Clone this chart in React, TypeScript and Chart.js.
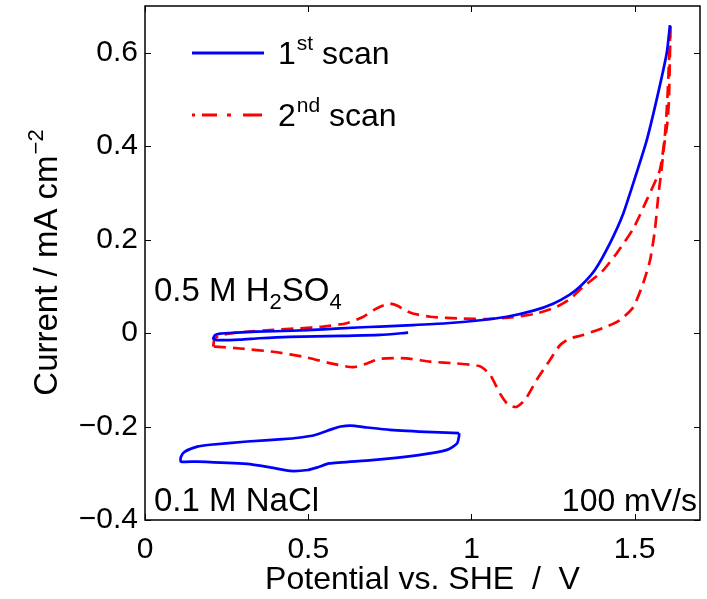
import React, { useEffect, useRef } from 'react';
import { Chart, registerables } from 'chart.js';

Chart.register(...registerables);

// ---------- data ----------
// 1st scan in 0.5 M H2SO4 (blue, solid)
const scan1AcidX = [0.806, 0.72, 0.6, 0.444, 0.35, 0.291, 0.22, 0.209, 0.215, 0.23, 0.28, 0.342, 0.45, 0.546, 0.65, 0.72, 0.82, 0.924, 1.02, 1.108, 1.19, 1.25, 1.3, 1.332, 1.378, 1.424, 1.465, 1.509, 1.537, 1.567, 1.598, 1.608];
const scan1AcidY = [0.001, -0.004, -0.006, -0.008, -0.011, -0.014, -0.015, -0.012, -0.004, -0.001, 0.001, 0.003, 0.005, 0.008, 0.012, 0.014, 0.017, 0.021, 0.027, 0.035, 0.048, 0.063, 0.082, 0.099, 0.135, 0.192, 0.256, 0.35, 0.413, 0.499, 0.599, 0.659];

// 2nd scan in 0.5 M H2SO4 (red, dashed)
const scan2AcidX = [0.209, 0.212, 0.225, 0.27, 0.33, 0.393, 0.47, 0.546, 0.618, 0.669, 0.7, 0.725, 0.75, 0.775, 0.796, 0.82, 0.873, 0.975, 1.047, 1.128, 1.2, 1.26, 1.3, 1.342, 1.399, 1.445, 1.496, 1.537, 1.577, 1.592, 1.6, 1.605, 1.61,
  1.608, 1.605, 1.6, 1.59, 1.582, 1.572, 1.562, 1.547, 1.526, 1.496, 1.455, 1.414, 1.342, 1.3, 1.271, 1.24, 1.2, 1.164, 1.138, 1.113, 1.087, 1.057, 1.026, 0.955, 0.873, 0.8, 0.72, 0.68, 0.638, 0.577, 0.495, 0.393, 0.291, 0.214, 0.209];
const scan2AcidY = [-0.029, -0.015, -0.006, 0.0, 0.004, 0.007, 0.01, 0.014, 0.021, 0.035, 0.049, 0.058, 0.063, 0.058, 0.049, 0.042, 0.035, 0.031, 0.03, 0.034, 0.042, 0.056, 0.072, 0.099, 0.131, 0.171, 0.224, 0.285, 0.349, 0.42, 0.5, 0.58, 0.661,
  0.6, 0.5, 0.45, 0.4, 0.349, 0.292, 0.221, 0.156, 0.107, 0.056, 0.028, 0.014, -0.004, -0.012, -0.026, -0.058, -0.1, -0.143, -0.158, -0.154, -0.129, -0.089, -0.071, -0.065, -0.061, -0.054, -0.055, -0.065, -0.073, -0.066, -0.052, -0.04, -0.033, -0.029, -0.029];

// scan in 0.1 M NaCl (blue, solid)
const naclX = [0.962, 0.882, 0.75, 0.68, 0.63, 0.6, 0.575, 0.521, 0.47, 0.422, 0.313, 0.2, 0.16, 0.121, 0.11, 0.11, 0.16, 0.313, 0.38, 0.444, 0.499, 0.53, 0.564, 0.695, 0.838, 0.925, 0.956, 0.962, 0.962];
const naclY = [-0.214, -0.212, -0.207, -0.202, -0.198, -0.2, -0.205, -0.218, -0.224, -0.227, -0.232, -0.239, -0.243, -0.254, -0.265, -0.275, -0.275, -0.28, -0.287, -0.295, -0.293, -0.287, -0.279, -0.272, -0.261, -0.25, -0.236, -0.22, -0.214];

const xRange = [0, 1.7];
const yRange = [-0.4, 0.7];
const xTickStep = 0.5;
const yTickStep = 0.2;

const legendLabels = [
  { base: '1', sup: 'st', rest: ' scan' },
  { base: '2', sup: 'nd', rest: ' scan' },
];
const yTitleMain = 'Current / mA cm';
const yTitleSup = '\u22122';
const xTitle = 'Potential vs. SHE  /  V';
const speedLabel = '100 mV/s';

const BLUE = '#0000ff';
const RED = '#ff0000';
const FONT = '"Liberation Sans", Arial, Helvetica, sans-serif';
const DASH = [12, 7];

const zip = (xs: number[], ys: number[]) => xs.map((x, i) => ({ x, y: ys[i] }));

const fmt = (v: number) => {
  const r = Math.round(v * 100) / 100;
  if (r === 0) return '0';
  return r < 0 ? '\u2212' + String(Math.abs(r)) : String(r);
};

const decorPlugin = {
  id: 'decor',
  afterDraw(chart: any) {
    const { ctx, chartArea: a, scales } = chart;
    const xs = scales.x;
    const ys = scales.y;
    ctx.save();
    // frame
    ctx.strokeStyle = '#000';
    ctx.lineWidth = 1.5;
    ctx.setLineDash([]);
    ctx.strokeRect(a.left, a.top, a.right - a.left, a.bottom - a.top);
    // inward ticks on all four sides
    const tl = 6;
    ctx.lineWidth = 1;
    ctx.beginPath();
    xs.ticks.forEach((t: any) => {
      const px = Math.round(xs.getPixelForValue(t.value)) + 0.5;
      ctx.moveTo(px, a.bottom); ctx.lineTo(px, a.bottom - tl);
      ctx.moveTo(px, a.top); ctx.lineTo(px, a.top + tl);
    });
    ys.ticks.forEach((t: any) => {
      const py = Math.round(ys.getPixelForValue(t.value)) + 0.5;
      ctx.moveTo(a.left, py); ctx.lineTo(a.left + tl, py);
      ctx.moveTo(a.right, py); ctx.lineTo(a.right - tl, py);
    });
    ctx.stroke();

    ctx.fillStyle = '#000';
    ctx.textBaseline = 'alphabetic';
    ctx.textAlign = 'left';

    // legend
    const rows = [
      { y: 53, color: BLUE, segs: [[192, 264]] },
      { y: 115, color: RED, segs: [[192, 195], [202, 217], [227, 231], [243, 262]] },
    ];
    rows.forEach((r, i) => {
      ctx.strokeStyle = r.color;
      ctx.lineWidth = 3;
      ctx.beginPath();
      r.segs.forEach(([s, e]) => { ctx.moveTo(s, r.y); ctx.lineTo(e, r.y); });
      ctx.stroke();
      const lab = legendLabels[i];
      let x = 278;
      const base = r.y + 11;
      ctx.font = `32px ${FONT}`;
      ctx.fillText(lab.base, x, base);
      x += ctx.measureText(lab.base).width + 1;
      ctx.font = `21px ${FONT}`;
      ctx.fillText(lab.sup, x, base - 14);
      x += ctx.measureText(lab.sup).width;
      ctx.font = `32px ${FONT}`;
      ctx.fillText(lab.rest, x, base);
    });

    // annotation: 0.5 M H2SO4
    let x = 154;
    const b1 = 301;
    const parts: [string, boolean][] = [['0.5 M H', false], ['2', true], ['SO', false], ['4', true]];
    parts.forEach(([s, sub]) => {
      ctx.font = sub ? `22px ${FONT}` : `33px ${FONT}`;
      ctx.fillText(s, x, sub ? b1 + 8 : b1);
      x += ctx.measureText(s).width;
    });

    // annotation: 0.1 M NaCl
    ctx.font = `33px ${FONT}`;
    ctx.fillText('0.1 M NaCl', 154, 511);
    // scan speed
    ctx.font = `32px ${FONT}`;
    ctx.textAlign = 'right';
    ctx.fillText(speedLabel, 697, 511);

    // y-axis title (rotated, with superscript)
    ctx.textAlign = 'left';
    ctx.translate(57, (a.top + a.bottom) / 2);
    ctx.rotate(-Math.PI / 2);
    ctx.font = `33px ${FONT}`;
    const w1 = ctx.measureText(yTitleMain).width;
    ctx.font = `22px ${FONT}`;
    const w2 = ctx.measureText(yTitleSup).width;
    const start = -(w1 + w2) / 2;
    ctx.font = `33px ${FONT}`;
    ctx.fillText(yTitleMain, start, 0);
    ctx.font = `22px ${FONT}`;
    ctx.fillText(yTitleSup, start + w1 + 1, -14);
    ctx.restore();
  },
};

export default function App() {
  const ref = useRef<HTMLCanvasElement>(null);
  useEffect(() => {
    if (!ref.current) return;
    const chart = new Chart(ref.current, {
      type: 'scatter',
      data: {
        datasets: [
          { label: '1st scan', data: zip(scan1AcidX, scan1AcidY), showLine: true, borderColor: BLUE, borderWidth: 2.7, pointRadius: 0, tension: 0.2, fill: false },
          { label: '2nd scan', data: zip(scan2AcidX, scan2AcidY), showLine: true, borderColor: RED, borderWidth: 2.7, borderDash: DASH, pointRadius: 0, tension: 0.2, fill: false },
          { label: 'NaCl', data: zip(naclX, naclY), showLine: true, borderColor: BLUE, borderWidth: 2.7, pointRadius: 0, tension: 0.2, fill: false },
        ],
      },
      options: {
        responsive: false,
        animation: false,
        layout: { padding: { left: 0, top: 6, right: 7, bottom: 0 } },
        plugins: { legend: { display: false }, tooltip: { enabled: false } },
        scales: {
          x: {
            type: 'linear',
            min: xRange[0],
            max: xRange[1],
            grid: { display: false, drawTicks: false },
            border: { display: false },
            ticks: { stepSize: xTickStep, includeBounds: false, padding: 12, color: '#000', font: { family: FONT, size: 30 }, callback: (v: any) => fmt(Number(v)), maxRotation: 0 },
            title: { display: true, text: xTitle, color: '#000', font: { family: FONT, size: 32 }, padding: { top: 0, bottom: 0 } },
            afterFit: (s: any) => { s.height = 79; s.paddingLeft = 0; s.paddingRight = 0; },
          },
          y: {
            type: 'linear',
            min: yRange[0],
            max: yRange[1],
            grid: { display: false, drawTicks: false },
            border: { display: false },
            ticks: { stepSize: yTickStep, includeBounds: false, padding: 7, color: '#000', font: { family: FONT, size: 30 }, callback: (v: any) => fmt(Number(v)) },
            afterFit: (s: any) => { s.width = 145; s.paddingTop = 0; s.paddingBottom = 0; },
          },
        },
      },
      plugins: [decorPlugin],
    });
    return () => chart.destroy();
  }, []);
  return (
    <div style={{ position: 'absolute', left: 0, top: 0, width: 707, height: 599, background: '#fff' }}>
      <canvas ref={ref} width={707} height={599} style={{ display: 'block' }} />
    </div>
  );
}
